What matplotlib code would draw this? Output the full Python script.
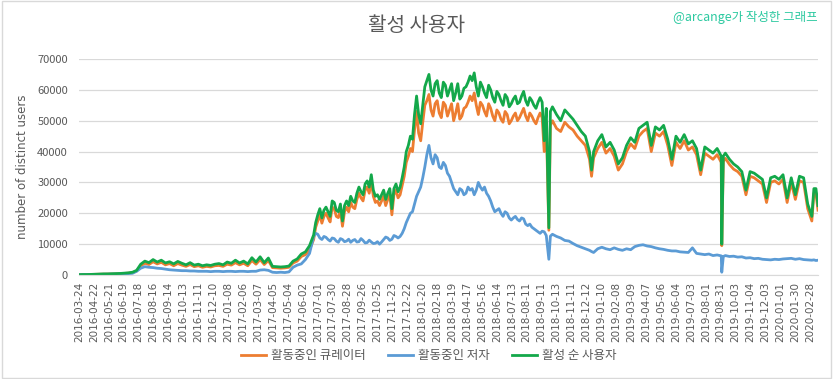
import matplotlib
matplotlib.use('Agg')
import matplotlib.pyplot as plt
from matplotlib.patches import Rectangle

plt.rcParams['font.family'] = ['Noto Sans CJK KR', 'DejaVu Sans']

# Day index (category position on the date axis)
day_index = [
    0, 8, 16, 24, 32, 40, 48, 56, 64, 72,
    80, 88, 96, 104, 112, 120, 128, 136, 144, 152,
    160, 168, 176, 184, 192, 200, 208, 216, 224, 232,
    240, 248, 256, 264, 272, 280, 288, 296, 304, 312,
    320, 328, 336, 344, 352, 360, 368, 376, 384, 392,
    400, 408, 416, 424, 432, 440, 448,
    456, 460, 464, 468, 472, 476, 480, 484,
    488, 492, 496, 500, 504, 508, 512, 516,
    520, 524, 528, 532, 536, 540, 544, 548,
    552, 556, 560, 564, 568, 572, 576, 580,
    584, 588, 592, 596, 600, 604, 608, 612,
    616, 620, 624, 628, 632, 636, 640, 644,
    648, 652, 656, 660, 664, 668, 672, 676,
    680, 684, 688, 692, 696, 700, 704, 708,
    712, 716, 720, 724, 728, 732, 736, 740,
    744, 748, 752, 756, 760, 764, 768, 772,
    776, 780, 784, 788, 792, 796, 800, 804,
    808, 812, 816, 820, 824, 828, 832, 836,
    840, 844, 848, 852, 856, 860, 864, 868,
    872, 876, 880, 884, 888, 892, 896, 900,
    904, 908, 913, 916, 920, 928, 936,
    944, 952, 960, 968, 976, 984, 992, 996, 1000, 1008,
    1016, 1024, 1032, 1040, 1048, 1056, 1064, 1072, 1080, 1088,
    1096, 1104, 1112, 1120, 1128, 1136, 1144, 1152, 1160, 1168,
    1176, 1184, 1192, 1200, 1208, 1216, 1224, 1232, 1240, 1248,
    1249, 1252, 1256, 1264, 1272, 1280, 1288, 1296, 1304, 1312,
    1320, 1328, 1336, 1344, 1352, 1360, 1368, 1376, 1384, 1392,
    1400, 1408, 1416, 1424, 1428, 1432, 1436,
]

# 활성 순 사용자 (green)
active_users = [
    100, 150, 150, 200, 250, 300, 350, 350, 400, 450,
    500, 600, 700, 900, 1500, 3500, 4500, 4000, 5000, 4200,
    4800, 3900, 4300, 3600, 4400, 3800, 3300, 4000, 3200, 3500,
    3000, 3300, 3100, 3500, 3700, 3300, 4200, 3800, 4800, 3900,
    4500, 3600, 5600, 4200, 5900, 4000, 5500, 2800, 2700, 2600,
    2700, 2900, 4500, 5200, 6800, 7500, 9500,
    13000, 17000, 19500, 21500, 18500, 21000, 22000, 20500,
    19000, 24000, 23500, 21000, 20500, 23000, 17500, 22500,
    24000, 22500, 25500, 24000, 23500, 26500, 28500, 27000,
    26000, 29500, 30500, 28500, 32500, 27500, 25500, 26000,
    24500, 26000, 27500, 24500, 26500, 28000, 21500, 28000,
    29500, 27000, 28500, 31500, 35000, 40000, 42000, 45000,
    44000, 52000, 58000, 52000, 49000, 55000, 61000, 63000,
    65000, 60000, 58000, 62000, 63000, 59000, 57500, 62500,
    61500, 58000, 60000, 62000, 56500, 59000, 62000, 57000,
    58000, 60500, 61000, 62500, 64500, 63000, 65500, 61000,
    58000, 62500, 61000, 59000, 57500, 61500, 60000, 57500,
    56000, 59500, 58500, 56500, 55000, 58500, 57500, 54500,
    55500, 57000, 58000, 55500, 56000, 58000, 59500, 56500,
    55000, 57500, 56500, 55000, 54000, 56000, 57500, 56000,
    43500, 54000, 15300, 53000, 54500, 52000, 50000,
    53500, 52000, 50500, 48500, 46500, 45000, 40000, 34000, 40000, 43500,
    45500, 41500, 43000, 40500, 36000, 38000, 42000, 44500, 43000, 47500,
    48500, 49500, 42000, 48000, 47000, 48500, 44000, 37500, 45000, 43000,
    45500, 42500, 43500, 41000, 34000, 41500, 40500, 39500, 41000, 38500,
    10000, 38500, 39500, 37500, 36000, 35000, 33500, 27500, 33500, 33000,
    32000, 31000, 25000, 31500, 32000, 31000, 32500, 25000, 31500, 26000,
    32000, 31500, 23000, 19000, 28000, 28000, 22500,
]

# 활동중인 큐레이터 (orange)
curators = [
    80, 120, 130, 170, 210, 250, 290, 300, 340, 380,
    420, 500, 600, 780, 1300, 3000, 3800, 3400, 4300, 3600,
    4100, 3300, 3700, 3000, 3700, 3200, 2800, 3400, 2700, 3000,
    2500, 2800, 2600, 3000, 3100, 2800, 3500, 3200, 4000, 3300,
    3800, 3000, 4700, 3500, 5000, 3400, 4700, 2400, 2300, 2200,
    2300, 2500, 3900, 4500, 6000, 6600, 8200,
    11500, 15500, 17500, 19500, 16800, 19000, 20000, 18500,
    17200, 22000, 21500, 19000, 18600, 21000, 15800, 20500,
    22000, 20500, 23500, 22000, 21500, 24500, 26500, 25000,
    24000, 27500, 28500, 26500, 30500, 25500, 23500, 24000,
    22500, 24000, 25500, 22500, 24500, 26000, 19500, 26000,
    27500, 25000, 26000, 29000, 32000, 36500, 38500, 41000,
    40000, 47000, 53000, 46000, 43500, 49500, 55000, 56500,
    58500, 53500, 51500, 55500, 56500, 52500, 51000, 56000,
    55000, 51500, 53500, 55500, 50000, 52500, 55500, 50500,
    51500, 54000, 54500, 56000, 58000, 56500, 59000, 55000,
    52000, 56000, 55000, 53000, 51500, 55500, 54000, 51500,
    50000, 53500, 52500, 50500, 49500, 53000, 52000, 49000,
    50000, 51500, 52500, 50000, 51000, 52500, 54000, 51500,
    50000, 52500, 51500, 50000, 49000, 51000, 52500, 51000,
    40000, 49500, 14500, 48500, 50000, 47500, 46500,
    49500, 48000, 47000, 45000, 43500, 42000, 37500, 32000, 38000, 41000,
    43000, 39500, 41000, 38500, 34000, 36000, 40000, 42500, 41000, 45000,
    46500, 47500, 40000, 46000, 45000, 46500, 42000, 35500, 43000, 41000,
    43500, 40500, 41500, 39000, 32500, 39500, 38500, 37500, 39000, 36500,
    9500, 36800, 37800, 35800, 34300, 33500, 32000, 26000, 32000, 31500,
    30500, 29500, 23500, 30000, 30500, 29500, 31000, 23500, 30000, 24500,
    30500, 30000, 21500, 17500, 26500, 26500, 21000,
]

# 활동중인 저자 (blue)
authors = [
    100, 120, 150, 150, 200, 200, 250, 250, 300, 300,
    350, 400, 450, 550, 1200, 2200, 2700, 2500, 2400, 2200,
    2100, 1900, 1700, 1600, 1500, 1400, 1400, 1300, 1300, 1200,
    1200, 1200, 1100, 1200, 1200, 1100, 1200, 1200, 1100, 1200,
    1200, 1100, 1200, 1200, 1600, 1700, 1500, 900, 800, 900,
    800, 1000, 2500, 3200, 3600, 5000, 7000,
    12500, 13500, 13200, 12000, 11500, 12500, 12200, 11500,
    11000, 12000, 11800, 11000, 10600, 11800, 11500, 10800,
    11000, 11600, 10600, 11200, 11500, 10700, 10800, 11800,
    11200, 10400, 10500, 11300, 10700, 10200, 10300, 10800,
    10000, 10700, 11500, 12300, 12000, 11200, 11600, 12800,
    12500, 12000, 12500, 13500, 15000, 17000, 18500, 20000,
    20500, 23000, 25500, 27000, 28500, 31500, 35000, 39000,
    42000, 38000, 36000, 39000, 38000, 35000, 34500, 36500,
    35500, 33000, 32000, 30000, 28000, 27000, 26000, 28000,
    27500, 26000, 26500, 28500, 27500, 28000, 26000, 27500,
    30000, 28500, 27500, 28500, 26500, 25500, 24000, 22000,
    20500, 21000, 21500, 20000, 19000, 20500, 20000, 18500,
    17800, 18500, 19000, 18000, 17500, 18500, 18200, 16500,
    16000, 16500, 15500, 15000, 14500, 14000, 13500, 14200,
    14000, 12800, 5100, 12600, 13200, 12500, 12000,
    11200, 11000, 10200, 9500, 9000, 8500, 8000, 7600, 7300, 8500,
    9000, 8500, 8200, 8800, 8300, 8000, 8500, 8200, 9200, 9600,
    9800, 9400, 9200, 8800, 8500, 8300, 8000, 7800, 7800, 7500,
    7400, 7300, 8800, 7000, 6800, 6600, 6800, 6300, 6500, 6200,
    900, 6000, 6300, 6000, 6100, 5800, 5900, 5500, 5600, 5300,
    5400, 5100, 5000, 4900, 5100, 5000, 5200, 5300, 5400, 5100,
    5300, 5000, 4900, 4800, 4900, 4700, 4800,
]

# x tick labels, one every 29 categories
date_labels = [
    '2016-03-24', '2016-04-22', '2016-05-21', '2016-06-19', '2016-07-18',
    '2016-08-16', '2016-09-14', '2016-10-13', '2016-11-11', '2016-12-10',
    '2017-01-08', '2017-02-06', '2017-03-07', '2017-04-05', '2017-05-04',
    '2017-06-02', '2017-07-01', '2017-07-30', '2017-08-28', '2017-09-26',
    '2017-10-25', '2017-11-23', '2017-12-22', '2018-01-20', '2018-02-18',
    '2018-03-19', '2018-04-17', '2018-05-16', '2018-06-14', '2018-07-13',
    '2018-08-11', '2018-09-11', '2018-10-13', '2018-11-11', '2018-12-12',
    '2019-01-10', '2019-02-08', '2019-03-09', '2019-04-07', '2019-05-06',
    '2019-06-04', '2019-07-03', '2019-08-01', '2019-08-31', '2019-10-03',
    '2019-11-04', '2019-12-03', '2020-01-01', '2020-01-30', '2020-02-28',
]
label_step = 29

assert len(day_index) == len(active_users) == len(curators) == len(authors)

text_gray = '#595959'

fig = plt.figure(figsize=(8.33, 3.79), dpi=100)
ax = fig.add_axes([0.0948, 0.2744, 0.8872, 0.5699])

ax.plot(day_index, curators, color='#ED7D31', lw=2.0, label='활동중인 큐레이터')
ax.plot(day_index, authors, color='#5B9BD5', lw=2.0, label='활동중인 저자')
ax.plot(day_index, active_users, color='#13A84A', lw=2.0, label='활성 순 사용자')

ax.set_xlim(0, day_index[-1])
ax.set_ylim(0, 70000)
ax.set_yticks(range(0, 70001, 10000))
ax.set_xticks([i * label_step for i in range(len(date_labels))])
ax.set_xticklabels(date_labels, rotation=90, fontsize=7.5, color=text_gray,
                   family='DejaVu Sans')
ax.tick_params(axis='y', labelsize=8, colors=text_gray, length=0, pad=8)
ax.tick_params(axis='x', length=0, pad=5)

ax.grid(axis='y', color='#D9D9D9', lw=0.9)
ax.set_axisbelow(True)
for s in ['top', 'right', 'left']:
    ax.spines[s].set_visible(False)
ax.spines['bottom'].set_color('#D9D9D9')

ax.set_ylabel('number of distinct users', fontsize=8.5, color=text_gray,
              family='DejaVu Sans', labelpad=6)

fig.text(0.5, 0.932, '활성 사용자', ha='center', va='center', fontsize=14.5,
         color=text_gray, fontweight='light')
fig.text(0.982, 0.955, '@arcange가 작성한 그래프', ha='right', va='center',
         fontsize=9, color='#2CC9A0')

ax.legend(loc='center', bbox_to_anchor=(0.515, 0.062), bbox_transform=fig.transFigure,
          ncol=3, frameon=False, fontsize=9, handlelength=2.0, columnspacing=1.8,
          handletextpad=0.4, labelcolor=text_gray)

fig.patches.append(Rectangle((0.002, 0.003), 0.996, 0.994, transform=fig.transFigure,
                             fill=False, edgecolor='#D9D9D9', lw=1.0))

fig.savefig('out.png', dpi=100)
